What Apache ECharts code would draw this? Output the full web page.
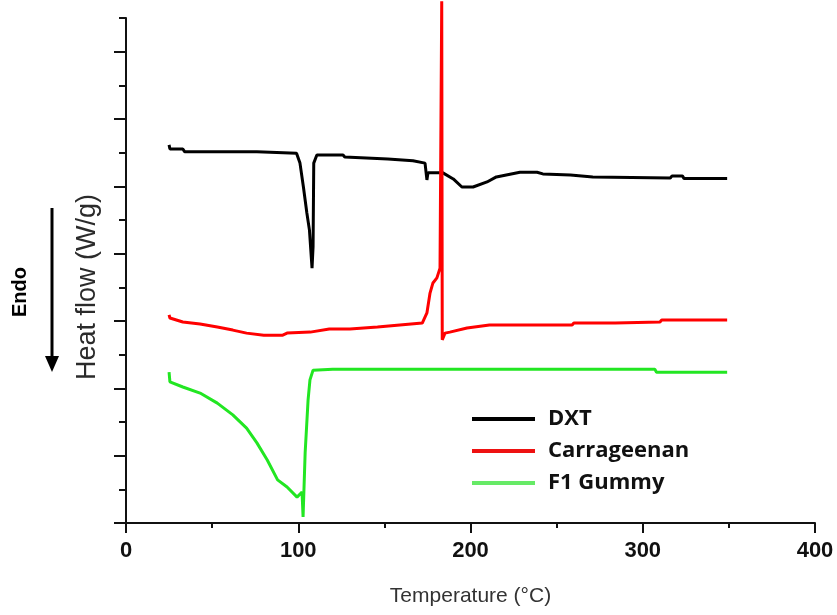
<!DOCTYPE html>
<html>
<head>
<meta charset="utf-8">
<script src="https://cdn.jsdelivr.net/npm/echarts@6/dist/echarts.min.js"></script>
<style>html,body{margin:0;padding:0;background:#fff;}#c{width:837px;height:615px;}</style>
</head>
<body>
<div id="c"></div>
<script>
// Temperature (°C) vs heat flow (arbitrary stacked units, axis 0..15)
const xTicks = [0, 100, 200, 300, 400];
const seriesNames = ['DXT', 'Carrageenan', 'F1 Gummy'];

const dxt = [[25,11.23],[25.5,11.11],[33,11.11],[34,11.03],[76,11.03],[77,10.98],[99,10.98],[101,10.69],[103,9.98],[105,9.21],[106.5,8.70],[108,7.57],[108.6,8.20],[109,10.69],[110.8,10.93],[126,10.93],[127,10.87],[152,10.81],[166.6,10.76],[173.6,10.69],[174.7,10.19],[175.3,10.40],[184,10.40],[190,10.22],[195,9.98],[201.5,9.98],[209.6,10.13],[215,10.28],[228.7,10.42],[238.6,10.42],[242,10.37],[258,10.34],[271,10.28],[316,10.25],[317,10.31],[323,10.31],[324,10.23],[349,10.23]];

const carrageenan = [[25,6.18],[25.5,6.09],[33,5.97],[43,5.91],[53,5.82],[62,5.73],[70,5.64],[80,5.58],[91,5.58],[93.5,5.64],[107,5.67],[118,5.76],[130,5.76],[146,5.82],[159,5.88],[172,5.94],[174.7,6.24],[176.5,6.83],[178.2,7.13],[180.5,7.28],[182.3,7.57],[183.3,15.5],[183.6,5.44],[185.2,5.64],[188,5.67],[198,5.79],[211,5.88],[259,5.88],[260,5.94],[284,5.94],[285,5.97],[310,5.97],[311,6.03],[349,6.03]];

const f1Gummy = [[25,4.48],[25.5,4.19],[33,4.04],[43,3.86],[53,3.56],[62,3.21],[70,2.82],[76,2.38],[82,1.87],[88,1.28],[93.5,1.07],[99.3,0.77],[102.2,0.92],[102.8,0.18],[104,2.08],[105.7,3.65],[106.8,4.25],[108.6,4.54],[120,4.57],[307,4.57],[308,4.48],[349,4.48]];

const yMajor = [0,2,4,6,8,10,12,14];
const yMinor = [1,3,5,7,9,11,13,15];

const chart = echarts.init(document.getElementById('c'));
const axisCol = '#111';
chart.setOption({
  animation: false,
  backgroundColor: '#fff',
  grid: { left: 126, right: 22, top: 18, bottom: 92 },
  legend: {
    orient: 'vertical', left: 467, top: 403, icon: 'rect',
    itemWidth: 63, itemHeight: 4, itemGap: 10,
    textStyle: { fontFamily: 'Open Sans', fontWeight: 'bold', fontSize: 22, color: '#111', lineHeight: 22, padding: [0,0,0,8] },
    data: [
      { name: seriesNames[0], itemStyle: { color: '#000' } },
      { name: seriesNames[1], itemStyle: { color: '#ee1111' } },
      { name: seriesNames[2], itemStyle: { color: '#66ea66' } }
    ]
  },
  xAxis: {
    type: 'value', min: 0, max: 400, interval: 100,
    splitLine: { show: false },
    axisLine: { lineStyle: { color: axisCol, width: 2 } },
    axisTick: { length: 10, lineStyle: { width: 2, color: axisCol } },
    minorTick: { show: true, splitNumber: 2, length: 5, lineStyle: { width: 2, color: axisCol } },
    axisLabel: { margin: 17, fontFamily: 'Liberation Sans', fontWeight: 'bold', fontSize: 22, color: '#111',
      customValues: xTicks },
    name: 'Temperature (°C)', nameLocation: 'middle', nameGap: 63,
    nameTextStyle: { fontFamily: 'Liberation Sans', fontSize: 21, color: '#333' }
  },
  yAxis: [{
    type: 'value', min: 0, max: 15,
    splitLine: { show: false },
    axisLine: { show: true, lineStyle: { color: axisCol, width: 2 } },
    axisTick: { show: true, length: 12, lineStyle: { width: 2, color: axisCol }, customValues: yMajor },
    axisLabel: { show: false }
  }, {
    type: 'value', min: 0, max: 15, position: 'left', offset: 0,
    splitLine: { show: false },
    axisLine: { show: false },
    axisTick: { show: true, length: 7, lineStyle: { width: 2, color: axisCol }, customValues: yMinor },
    axisLabel: { show: false }
  }],
  series: [
    { name: seriesNames[0], type: 'line', data: dxt, showSymbol: false, color: '#000', lineStyle: { width: 3, color: '#000' }, z: 3 },
    { name: seriesNames[1], type: 'line', data: carrageenan, showSymbol: false, clip: false, color: '#ee1111', lineStyle: { width: 3, color: '#ff0000' }, z: 4 },
    { name: seriesNames[2], type: 'line', data: f1Gummy, showSymbol: false, color: '#33e633', lineStyle: { width: 3, color: '#22e622' }, z: 2 }
  ],
  graphic: [
    { type: 'text', x: 88, y: 287, rotation: Math.PI / 2,
      style: { text: 'Heat flow (W/g)', fontFamily: 'Liberation Sans', fontSize: 27, fill: '#2b2b2b', align: 'center', verticalAlign: 'middle' } },
    { type: 'text', x: 20, y: 292, rotation: Math.PI / 2,
      style: { text: 'Endo', fontFamily: 'Liberation Sans', fontWeight: 'bold', fontSize: 20, fill: '#000', align: 'center', verticalAlign: 'middle' } },
    { type: 'line', shape: { x1: 52, y1: 208, x2: 52, y2: 358 }, style: { stroke: '#000', lineWidth: 3 } },
    { type: 'polygon', shape: { points: [[45, 356], [59, 356], [52, 372]] }, style: { fill: '#000' } }
  ]
});
</script>
</body>
</html>
